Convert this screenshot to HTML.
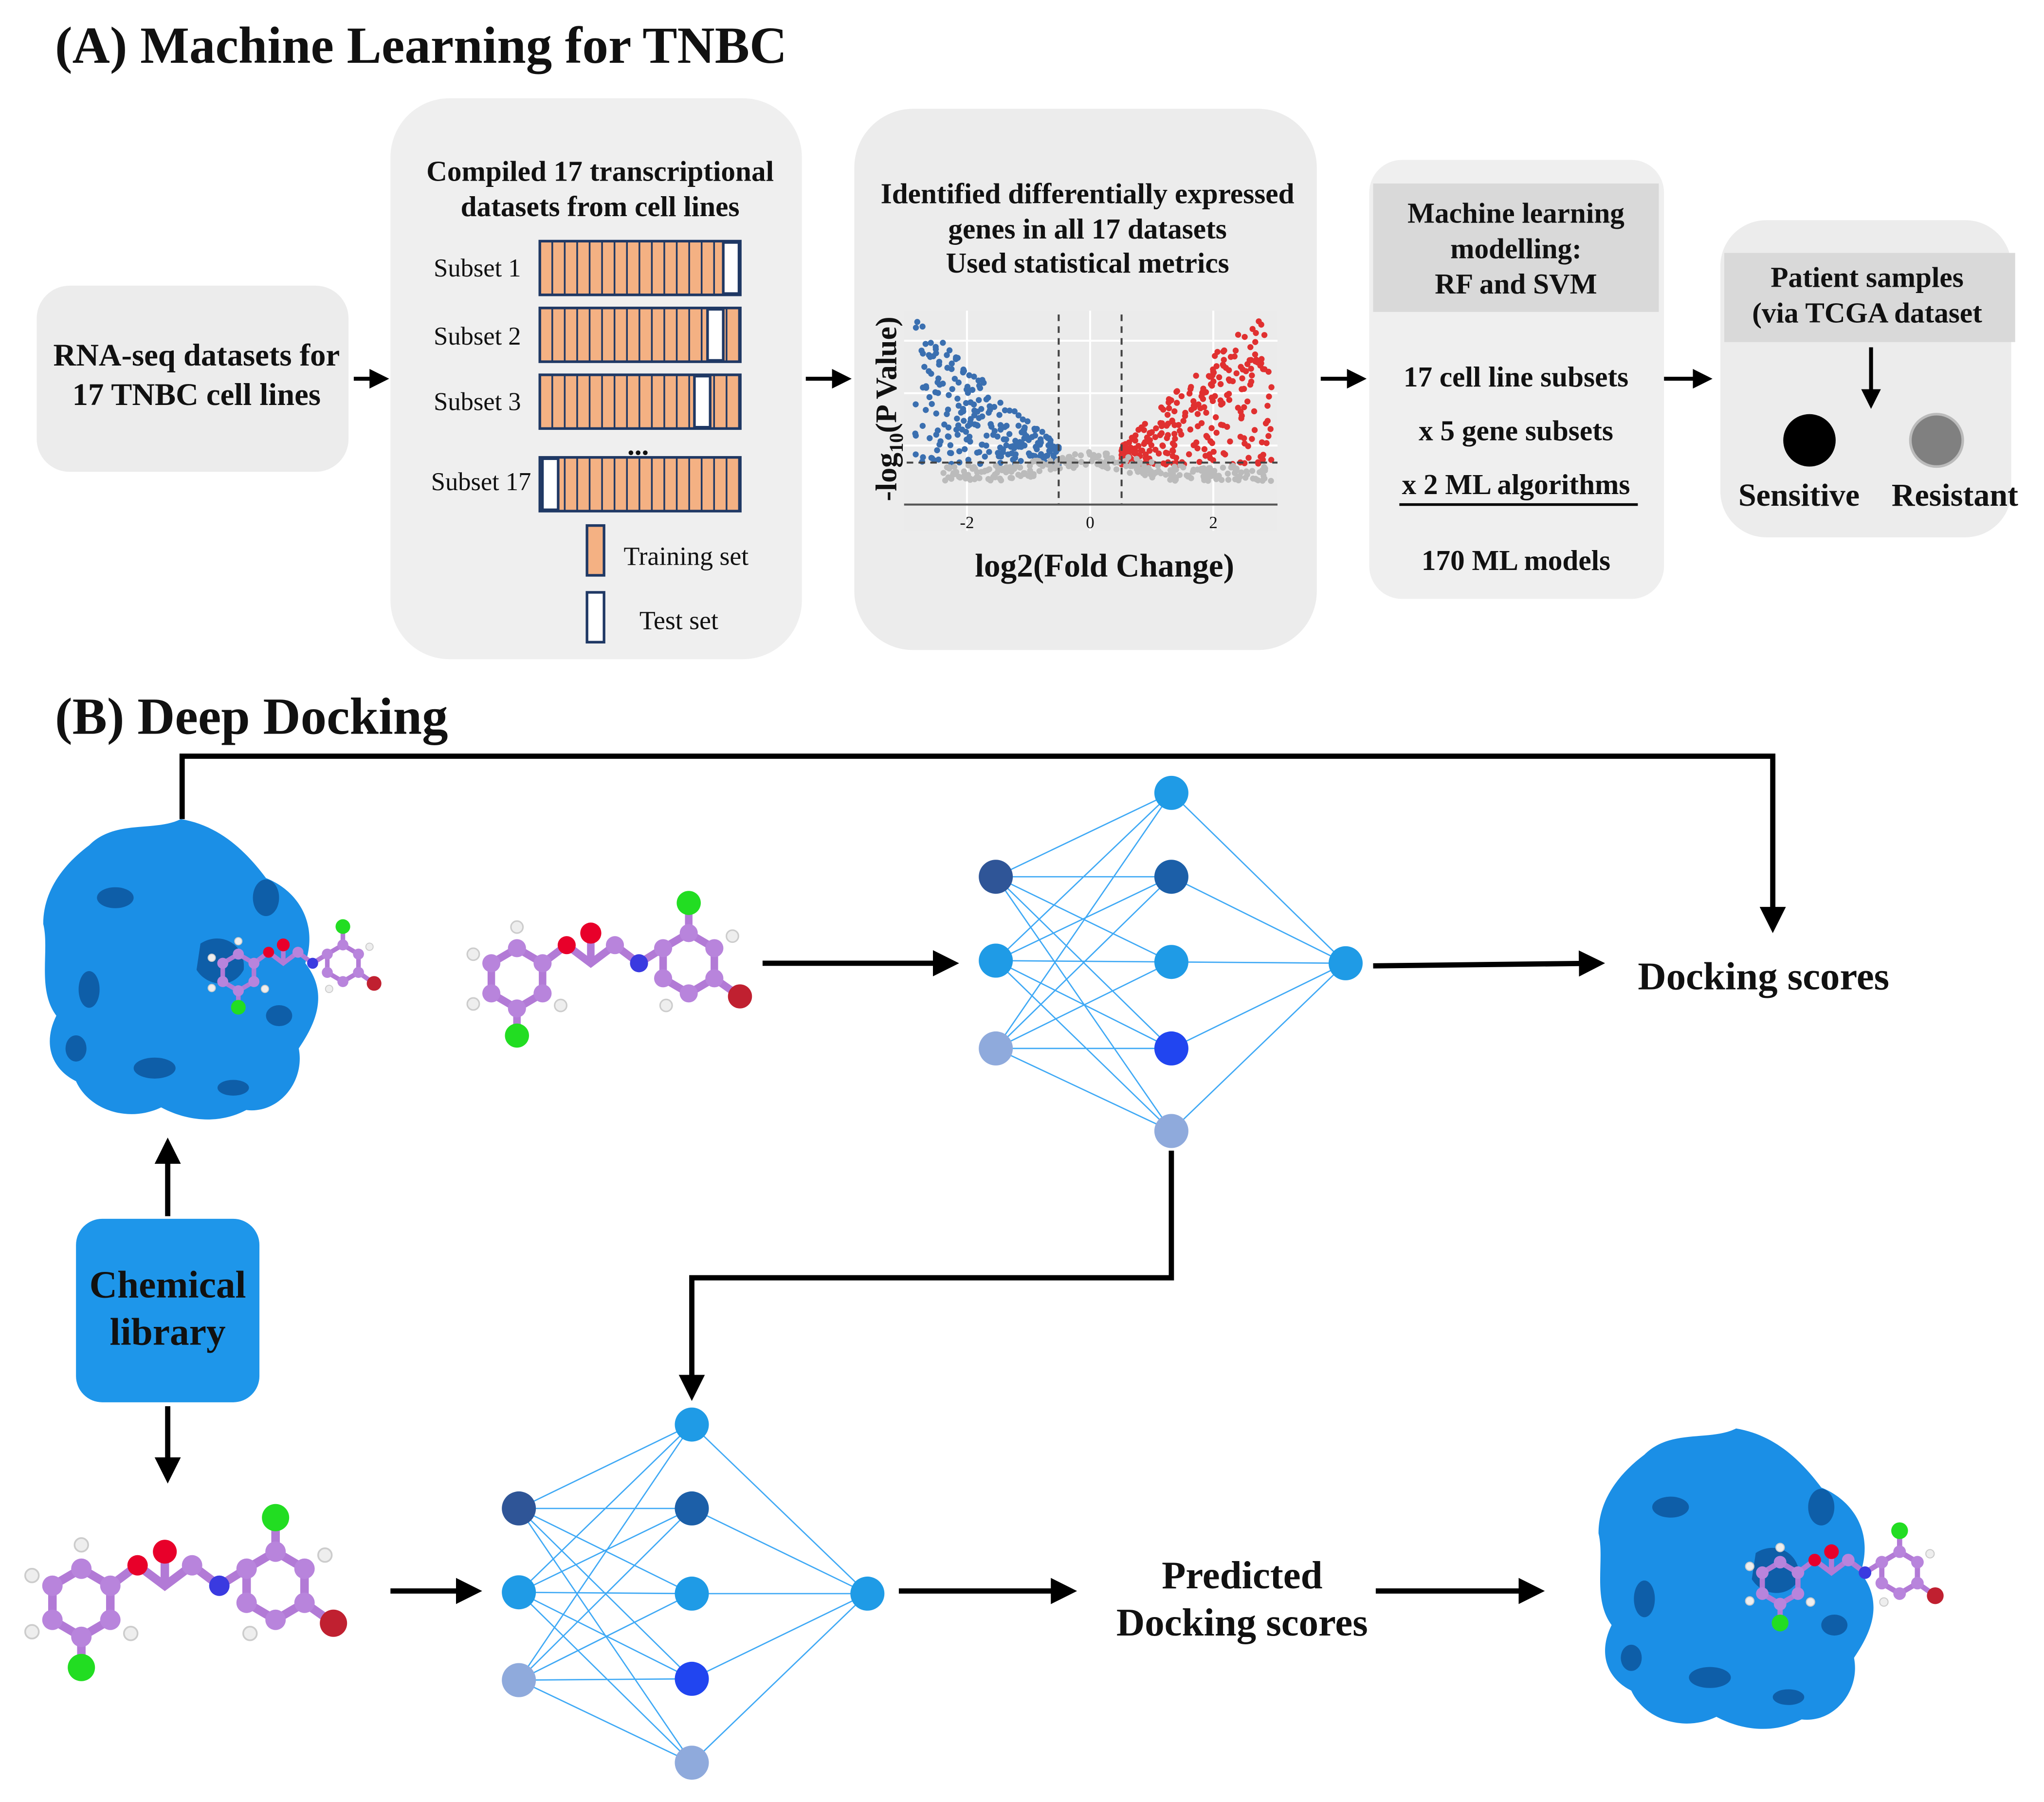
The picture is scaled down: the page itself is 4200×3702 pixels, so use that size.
<!DOCTYPE html>
<html><head><meta charset="utf-8">
<style>
html,body{margin:0;padding:0;background:#fff;}
svg{display:block;}
text{font-family:"Liberation Serif",serif;font-weight:bold;fill:#111;}
.n{font-weight:normal;}
</style></head><body>
<svg id="s" width="4200" height="3702" viewBox="0 0 1560 1375" preserveAspectRatio="none" xmlns="http://www.w3.org/2000/svg">
<defs>
<marker id="ah" markerWidth="5" markerHeight="5" refX="4" refY="2.5" orient="auto" markerUnits="strokeWidth">
<path d="M0,0 L5,2.5 L0,5 z" fill="#000"/></marker>
<g id="mol">
 <g stroke="#b27ad6" stroke-width="5" fill="none">
  <polygon points="0,0 17,-10 34,0 34,20 17,30 0,20"/>
  <polyline points="34,0 50,-12 66,0 82,-12 98,0 114,-10"/>
  <polygon points="114,-10 131,-20 148,-10 148,10 131,20 114,10"/>
  <line x1="17" y1="30" x2="17" y2="48"/>
  <line x1="66" y1="0" x2="66" y2="-20"/>
  <line x1="131" y1="-20" x2="131" y2="-40"/>
  <line x1="148" y1="10" x2="165" y2="22"/>
 </g>
 <g fill="#b884dc">
  <circle cx="0" cy="0" r="6"/><circle cx="17" cy="-10" r="6"/><circle cx="34" cy="0" r="6"/>
  <circle cx="34" cy="20" r="6"/><circle cx="17" cy="30" r="6"/><circle cx="0" cy="20" r="6"/>
  <circle cx="82" cy="-12" r="6"/><circle cx="114" cy="-10" r="6"/><circle cx="131" cy="-20" r="6"/>
  <circle cx="148" cy="-10" r="6"/><circle cx="148" cy="10" r="6"/><circle cx="131" cy="20" r="6"/><circle cx="114" cy="10" r="6"/>
 </g>
 <circle cx="50" cy="-12" r="6" fill="#e8002a"/>
 <circle cx="98" cy="0" r="6" fill="#3a3ae0"/>
 <circle cx="66" cy="-20" r="7" fill="#e8002a"/>
 <circle cx="17" cy="48" r="8" fill="#22dd22"/>
 <circle cx="131" cy="-40" r="8" fill="#22dd22"/>
 <circle cx="165" cy="22" r="8" fill="#c02030"/>
 <g fill="#eee" stroke="#ccc" stroke-width="1">
  <circle cx="-12" cy="-6" r="4"/><circle cx="-12" cy="27" r="4"/><circle cx="17" cy="-24" r="4"/>
  <circle cx="46" cy="28" r="4"/><circle cx="160" cy="-18" r="4"/><circle cx="116" cy="28" r="4"/>
 </g>
</g>
<g id="prot">
 <path d="M40,20 C60,0 90,10 110,0 C140,5 160,25 175,45 C200,55 215,80 205,110 C225,135 210,160 200,175 C205,200 185,225 160,222 C135,235 110,228 95,220 C70,232 40,222 30,200 C10,190 5,170 15,150 C0,130 10,100 5,80 C5,55 20,35 40,20 Z" fill="#1b8fe6"/>
 <g fill="#0e5ea8">
  <path d="M125,95 C140,85 160,95 158,115 C150,130 130,128 122,115 Z"/>
  <ellipse cx="60" cy="60" rx="14" ry="8"/><ellipse cx="175" cy="60" rx="10" ry="14"/>
  <ellipse cx="40" cy="130" rx="8" ry="14"/><ellipse cx="90" cy="190" rx="16" ry="8"/>
  <ellipse cx="185" cy="150" rx="10" ry="8"/><ellipse cx="150" cy="205" rx="12" ry="6"/>
  <ellipse cx="30" cy="175" rx="8" ry="10"/>
 </g>
</g>
</defs>

<!-- (A) -->
<text x="42" y="48" font-size="39.7">(A) Machine Learning for TNBC</text>

<rect x="28" y="218" width="238" height="142" rx="25" fill="#ececec"/>
<text x="150" y="279" font-size="24" text-anchor="middle">RNA-seq datasets for</text>
<text x="150" y="309" font-size="24" text-anchor="middle">17 TNBC cell lines</text>
<line x1="270" y1="289" x2="294" y2="289" stroke="#000" stroke-width="3" marker-end="url(#ah)"/>

<rect x="298" y="75" width="314" height="428" rx="45" fill="#efefef"/>
<text x="458" y="138" font-size="22" text-anchor="middle">Compiled 17 transcriptional</text>
<text x="458" y="165" font-size="22" text-anchor="middle">datasets from cell lines</text>
<g id="bars"></g>
<text x="331" y="211" font-size="19.5" class="n">Subset 1</text>
<text x="331" y="263" font-size="19.5" class="n">Subset 2</text>
<text x="331" y="313" font-size="19.5" class="n">Subset 3</text>
<text x="329" y="374" font-size="19.5" class="n">Subset 17</text>
<text x="487" y="347" font-size="22" text-anchor="middle">...</text>
<rect x="448" y="401" width="13" height="38" fill="#f4b183" stroke="#1f3864" stroke-width="2"/>
<text x="476" y="431" font-size="20" class="n">Training set</text>
<rect x="448" y="452" width="13" height="38" fill="#fff" stroke="#1f3864" stroke-width="2"/>
<text x="488" y="480" font-size="20" class="n">Test set</text>
<line x1="615" y1="289" x2="647" y2="289" stroke="#000" stroke-width="3" marker-end="url(#ah)"/>

<rect x="652" y="83" width="353" height="413" rx="45" fill="#ececec"/>
<text x="830" y="155" font-size="22" text-anchor="middle">Identified differentially expressed</text>
<text x="830" y="182" font-size="22" text-anchor="middle">genes in all 17 datasets</text>
<text x="830" y="208" font-size="22" text-anchor="middle">Used statistical metrics</text>
<rect x="690" y="237" width="285" height="168" fill="#ebebeb"/>
<g stroke="#fff" stroke-width="1.5">
 <line x1="738" y1="237" x2="738" y2="405"/><line x1="832" y1="237" x2="832" y2="405"/><line x1="926" y1="237" x2="926" y2="405"/>
 <line x1="690" y1="260" x2="975" y2="260"/><line x1="690" y1="300" x2="975" y2="300"/><line x1="690" y1="340" x2="975" y2="340"/>
</g>
<g id="pts"></g>
<g stroke="#444" stroke-width="1.5" stroke-dasharray="5,4">
 <line x1="808" y1="240" x2="808" y2="385"/><line x1="856" y1="240" x2="856" y2="385"/>
 <line x1="692" y1="353" x2="975" y2="353"/>
</g>
<line x1="690" y1="385" x2="975" y2="385" stroke="#555" stroke-width="1.5"/>
<text x="738" y="403" font-size="13" class="n" text-anchor="middle" fill="#555">-2</text>
<text x="832" y="403" font-size="13" class="n" text-anchor="middle" fill="#555">0</text>
<text x="926" y="403" font-size="13" class="n" text-anchor="middle" fill="#555">2</text>
<text transform="translate(684,312) rotate(-90)" font-size="23" text-anchor="middle">-log<tspan font-size="15" dy="5">10</tspan><tspan dy="-5">(P Value)</tspan></text>
<text x="843" y="440" font-size="25" text-anchor="middle">log2(Fold Change)</text>
<line x1="1008" y1="289" x2="1040" y2="289" stroke="#000" stroke-width="3" marker-end="url(#ah)"/>

<rect x="1045" y="122" width="225" height="335" rx="25" fill="#efefef"/>
<rect x="1048" y="140" width="218" height="98" fill="#d9d9d9"/>
<text x="1157" y="170" font-size="22" text-anchor="middle">Machine learning</text>
<text x="1157" y="197" font-size="22" text-anchor="middle">modelling:</text>
<text x="1157" y="224" font-size="22" text-anchor="middle">RF and SVM</text>
<text x="1157" y="295" font-size="22" text-anchor="middle">17 cell line subsets</text>
<text x="1157" y="336" font-size="22" text-anchor="middle">x 5 gene subsets</text>
<text x="1157" y="377" font-size="22" text-anchor="middle">x 2 ML algorithms</text>
<line x1="1068" y1="385" x2="1250" y2="385" stroke="#000" stroke-width="2"/>
<text x="1157" y="435" font-size="22" text-anchor="middle">170 ML models</text>
<line x1="1270" y1="289" x2="1304" y2="289" stroke="#000" stroke-width="3" marker-end="url(#ah)"/>

<rect x="1313" y="168" width="222" height="242" rx="35" fill="#ececec"/>
<rect x="1316" y="193" width="222" height="68" fill="#d9d9d9"/>
<text x="1425" y="219" font-size="22" text-anchor="middle">Patient samples</text>
<text x="1425" y="246" font-size="22" text-anchor="middle">(via TCGA dataset</text>
<line x1="1428" y1="265" x2="1428" y2="309" stroke="#000" stroke-width="3" marker-end="url(#ah)"/>
<circle cx="1381" cy="336" r="20" fill="#000"/>
<circle cx="1478" cy="336" r="20" fill="#808080" stroke="#bbb" stroke-width="2"/>
<text x="1373" y="386" font-size="24.5" text-anchor="middle">Sensitive</text>
<text x="1492" y="386" font-size="24.5" text-anchor="middle">Resistant</text>

<!-- (B) -->
<text x="42" y="560" font-size="39.7">(B) Deep Docking</text>
<polyline points="139,625 139,577 1353,577 1353,708" fill="none" stroke="#000" stroke-width="4" marker-end="url(#ah)"/>

<use href="#prot" transform="translate(28,625)"/>
<use href="#mol" transform="translate(170,735) scale(0.7)"/>

<rect x="58" y="930" width="140" height="140" rx="20" fill="#1e96ea"/>
<text x="128" y="990" font-size="29.5" text-anchor="middle">Chemical</text>
<text x="128" y="1026" font-size="29.5" text-anchor="middle">library</text>
<line x1="128" y1="928" x2="128" y2="872" stroke="#000" stroke-width="4" marker-end="url(#ah)"/>
<line x1="128" y1="1073" x2="128" y2="1128" stroke="#000" stroke-width="4" marker-end="url(#ah)"/>

<use href="#mol" transform="translate(375,735) scale(1.15)"/>
<line x1="582" y1="735" x2="728" y2="735" stroke="#000" stroke-width="4" marker-end="url(#ah)"/>
<g id="nn1"></g>
<line x1="1048" y1="737" x2="1221" y2="735" stroke="#000" stroke-width="4" marker-end="url(#ah)"/>
<text x="1250" y="755" font-size="30">Docking scores</text>
<polyline points="894,878 894,975 528,975 528,1065" fill="none" stroke="#000" stroke-width="4" marker-end="url(#ah)"/>

<use href="#mol" transform="translate(40,1210) scale(1.3)"/>
<line x1="298" y1="1214" x2="364" y2="1214" stroke="#000" stroke-width="4" marker-end="url(#ah)"/>
<g id="nn2"></g>
<line x1="686" y1="1214" x2="818" y2="1214" stroke="#000" stroke-width="4" marker-end="url(#ah)"/>
<text x="948" y="1212" font-size="30" text-anchor="middle">Predicted</text>
<text x="948" y="1248" font-size="30" text-anchor="middle">Docking scores</text>
<line x1="1050" y1="1214" x2="1175" y2="1214" stroke="#000" stroke-width="4" marker-end="url(#ah)"/>
<use href="#prot" transform="translate(1215,1090)"/>
<use href="#mol" transform="translate(1345,1200) scale(0.8)"/>

<script>
(function(){
var NS="http://www.w3.org/2000/svg";
function el(p,t,a){var e=document.createElementNS(NS,t);for(var k in a)e.setAttribute(k,a[k]);document.getElementById(p).appendChild(e);return e;}
var bars=[[184,552],[235,540],[286,530],[349,414]];
bars.forEach(function(b){
 el("bars","rect",{x:412,y:b[0],width:153,height:41,fill:"#f4b183",stroke:"#1f3864","stroke-width":2});
 for(var x=412+9.5;x<565;x+=9.5) el("bars","line",{x1:x,y1:b[0],x2:x,y2:b[0]+41,stroke:"#1f3864","stroke-width":1.3});
 el("bars","rect",{x:b[1],y:b[0]+1,width:12,height:39,fill:"#fff",stroke:"#1f3864","stroke-width":2});
});
var seed=7;function r(){seed=(seed*16807)%2147483647;return seed/2147483647;}
var i,u,x,lim,y,d;
for(i=0;i<260;i++){u=r();x=808-Math.pow(u,1.3)*110;lim=Math.max(355-(808-x)*0.9-15,245);y=355-r()*(355-lim);el("pts","circle",{cx:x,cy:y,r:2.3,fill:"#3a6fb0"});}
for(i=0;i<300;i++){u=r();x=856+Math.pow(u,1.3)*115;lim=Math.max(355-(x-856)*1.0-15,245);y=355-r()*(355-lim);el("pts","circle",{cx:x,cy:y,r:2.3,fill:"#e03030"});}
for(i=0;i<260;i++){x=720+r()*250;d=Math.abs(x-832);el("pts","circle",{cx:x,cy:355+r()*12-Math.max(0,20-d/3)*0.6,r:2.3,fill:"#bbb"});}
function nn(g,x0,x1,x2,ins,hid,out){
 var ci=["#2f5597","#1f9be6","#8faadc"],ch=["#1f9be6","#1c5fa8","#1f9be6","#2145f0","#8faadc"];
 ins.forEach(function(a){hid.forEach(function(b){el(g,"line",{x1:x0,y1:a,x2:x1,y2:b,stroke:"#3fa9f5","stroke-width":1});});});
 hid.forEach(function(b){el(g,"line",{x1:x1,y1:b,x2:x2,y2:out,stroke:"#3fa9f5","stroke-width":1});});
 ins.forEach(function(a,i){el(g,"circle",{cx:x0,cy:a,r:13,fill:ci[i]});});
 hid.forEach(function(b,i){el(g,"circle",{cx:x1,cy:b,r:13,fill:ch[i]});});
 el(g,"circle",{cx:x2,cy:out,r:13,fill:"#1f9be6"});
}
nn("nn1",760,894,1027,[669,733,800],[605,669,734,800,863],735);
nn("nn2",396,528,662,[1151,1215,1282],[1087,1151,1216,1281,1345],1216);
})();
</script>
</svg>
</body></html>
